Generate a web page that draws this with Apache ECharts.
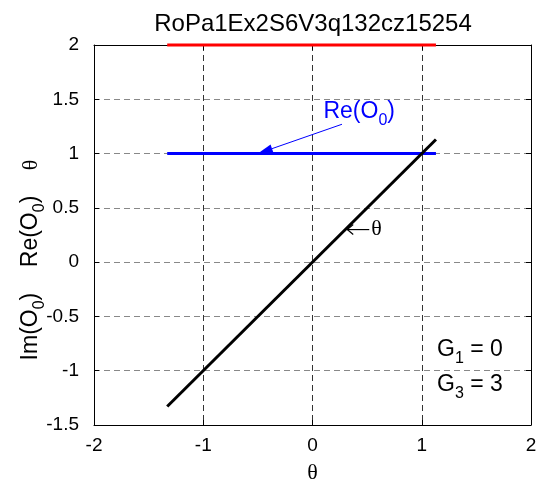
<!DOCTYPE html>
<html>
<head>
<meta charset="utf-8">
<script src="https://cdn.jsdelivr.net/npm/echarts@6/dist/echarts.min.js"></script>
<style>
  html, body { margin: 0; padding: 0; background: #fff; }
  #chart { width: 540px; height: 489px; }
</style>
</head>
<body>
<div id="chart"></div>
<script>
// Tick layout
const xMin = -2, xMax = 2, xStep = 1;
const yMin = -1.5, yMax = 2, yStep = 0.5;

// Sampled curves over theta
const theta = [-1.33, 1.13];
const thetaCurve = [-1.33, 1.13];
const reO0 = [1, 1];
const imO0 = [2, 2];

// Annotation anchors (data units)
const reArrowTail = [0.27, 1.27];
const reArrowHead = [-0.5, 1];
const reLabelAt = [0.1, 1.39];
const thetaArrowHead = [0.318, 0.30];
const g1LabelAt = [1.14, -0.81];
const g3LabelAt = [1.14, -1.13];

const SANS = '"Liberation Sans", Arial, sans-serif';
const SERIF = '"Liberation Serif", "Times New Roman", serif';

const chart = echarts.init(document.getElementById('chart'), null, { renderer: 'canvas' });

function pairs(xs, ys) { return xs.map((x, i) => [x, ys[i]]); }

const boxAxis = (extra) => Object.assign({
  type: 'value',
  axisLine: { show: true, onZero: false, lineStyle: { color: '#000', width: 1 } },
  axisTick: { show: true, inside: true, length: 5, lineStyle: { color: '#000' } },
  axisLabel: { show: false },
  splitLine: { show: false }
}, extra);

chart.setOption({
  animation: false,
  backgroundColor: '#fff',
  title: {
    text: 'RoPa1Ex2S6V3q132cz15254',
    left: 308, top: 7, textAlign: 'center',
    textStyle: { fontFamily: SANS, fontSize: 24, fontWeight: 'normal', color: '#000' }
  },
  grid: { left: 94, right: 9, top: 45, bottom: 58 },
  xAxis: [
    boxAxis({
      min: xMin, max: xMax, interval: xStep, position: 'bottom',
      axisLabel: { show: true, color: '#000', fontFamily: SANS, fontSize: 19, margin: 11 },
      splitLine: { show: true, lineStyle: { color: '#333', type: [6, 4], width: 1 } },
      name: 'θ', nameLocation: 'middle', nameGap: 37,
      nameTextStyle: { fontFamily: SERIF, fontSize: 22, color: '#000' }
    }),
    boxAxis({ min: xMin, max: xMax, interval: xStep, position: 'top' })
  ],
  yAxis: [
    boxAxis({
      min: yMin, max: yMax, interval: yStep, position: 'left',
      axisLabel: { show: true, color: '#000', fontFamily: SANS, fontSize: 19, margin: 15 },
      splitLine: { show: true, lineStyle: { color: '#888', type: [6, 4], width: 1 } }
    }),
    boxAxis({ min: yMin, max: yMax, interval: yStep, position: 'right' })
  ],
  series: [
    {
      name: 'Im(O0)', type: 'line', showSymbol: false, clip: false,
      data: pairs(theta, imO0),
      lineStyle: { color: '#ff0000', width: 3 }
    },
    {
      name: 'Re(O0)', type: 'line', showSymbol: false, clip: false,
      data: pairs(theta, reO0),
      lineStyle: { color: '#0000ff', width: 3 }
    },
    {
      name: 'theta', type: 'line', showSymbol: false, clip: false,
      data: pairs(theta, thetaCurve),
      lineStyle: { color: '#000', width: 3 }
    }
  ]
});

// Text annotations and arrows, placed through the axes
function px(p) { return chart.convertToPixel({ gridIndex: 0 }, p); }

function drawAnnotations() {
  const tail = px(reArrowTail), head = px(reArrowHead);
  const dx = head[0] - tail[0], dy = head[1] - tail[1];
  const len = Math.hypot(dx, dy), ux = dx / len, uy = dy / len;
  const headLen = 15, headHalf = 4.5;
  const bx = head[0] - ux * headLen, by = head[1] - uy * headLen;
  const arrowHead = [
    head,
    [bx - uy * headHalf, by + ux * headHalf],
    [bx + uy * headHalf, by - ux * headHalf]
  ];
  const reAt = px(reLabelAt), th = px(thetaArrowHead);
  const g1 = px(g1LabelAt), g3 = px(g3LabelAt);

  const sub = (size, color) => ({ fontSize: size, fontFamily: SANS, fill: color, padding: [18, 0, 0, 0] });

  chart.setOption({
    graphic: [
      { type: 'line', shape: { x1: tail[0], y1: tail[1], x2: bx, y2: by },
        style: { stroke: '#0000ff', lineWidth: 1 }, z: 100 },
      { type: 'polygon', shape: { points: arrowHead }, style: { fill: '#0000ff' }, z: 100 },
      { type: 'text', x: reAt[0], y: reAt[1], z: 100,
        style: { text: 'Re(O{s|0})', fill: '#0000ff', fontFamily: SANS, fontSize: 23,
          verticalAlign: 'middle', align: 'left',
          rich: { s: sub(16, '#0000ff') } } },
      // left-pointing text arrow before the theta label
      { type: 'polyline', z: 100,
        shape: { points: [[th[0] + 22, th[1]], [th[0], th[1]]] },
        style: { stroke: '#000', lineWidth: 1.2, fill: null } },
      { type: 'polyline', z: 100,
        shape: { points: [[th[0] + 6, th[1] - 5], [th[0], th[1]], [th[0] + 6, th[1] + 5]] },
        style: { stroke: '#000', lineWidth: 1.2, fill: null } },
      { type: 'text', x: th[0] + 24, y: th[1], z: 100,
        style: { text: 'θ', fill: '#000', fontFamily: SERIF, fontSize: 22,
          verticalAlign: 'middle', align: 'left' } },
      { type: 'text', x: g1[0], y: g1[1], z: 100,
        style: { text: 'G{s|1} = 0', fill: '#000', fontFamily: SANS, fontSize: 23,
          verticalAlign: 'middle', align: 'left', rich: { s: sub(16, '#000') } } },
      { type: 'text', x: g3[0], y: g3[1], z: 100,
        style: { text: 'G{s|3} = 3', fill: '#000', fontFamily: SANS, fontSize: 23,
          verticalAlign: 'middle', align: 'left', rich: { s: sub(16, '#000') } } },
      { type: 'text', x: 31, y: 260, rotation: Math.PI / 2, z: 100,
        style: { text: 'Im(O{s|0})    Re(O{s|0})    {t|θ}', fill: '#000', fontFamily: SANS, fontSize: 23,
          verticalAlign: 'middle', align: 'center',
          rich: { s: sub(16, '#000'), t: { fontFamily: SERIF, fontSize: 22, fill: '#000' } } } }
    ]
  });
}
drawAnnotations();
</script>
</body>
</html>
